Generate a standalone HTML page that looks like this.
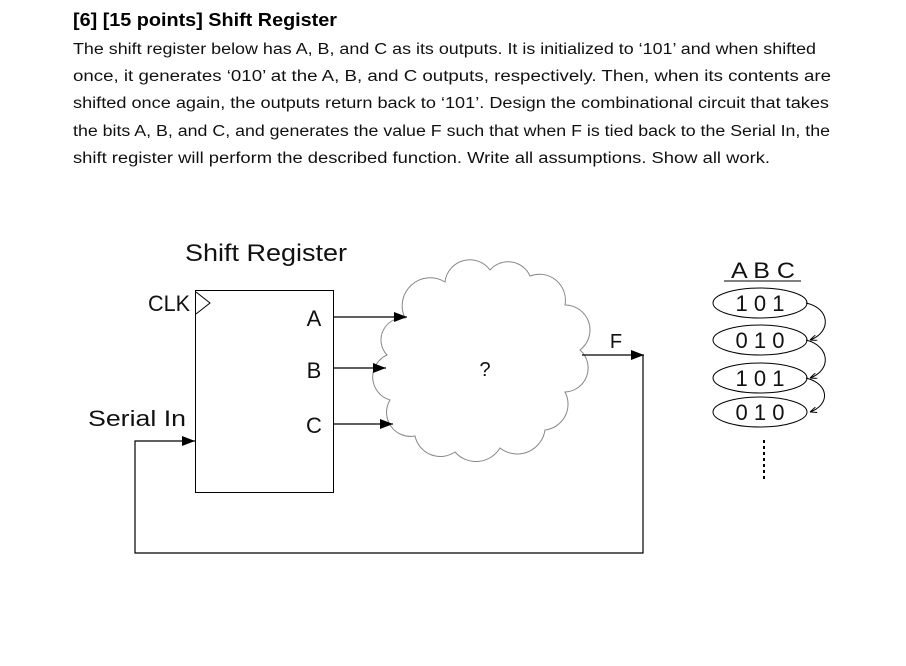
<!DOCTYPE html>
<html><head><style>
html,body{margin:0;padding:0;background:#fff;}
svg{display:block;}
</style></head><body>
<svg width="906" height="666" viewBox="0 0 906 666" xmlns="http://www.w3.org/2000/svg" font-family="Liberation Sans, sans-serif">
<defs>
<marker id="ah" markerWidth="13" markerHeight="10" refX="13" refY="5" orient="auto" markerUnits="userSpaceOnUse"><path d="M0,0 L13,5 L0,10 z" fill="#000"/></marker>
<marker id="sa" markerWidth="7" markerHeight="6" refX="7" refY="3" orient="auto" markerUnits="userSpaceOnUse"><path d="M0,0 L7,3 L0,6" fill="none" stroke="#000" stroke-width="1"/></marker>
</defs>
<text x="73" y="26" font-size="18" font-weight="bold" textLength="264" lengthAdjust="spacingAndGlyphs">[6] [15 points] Shift Register</text>
<g font-size="15.5" fill="#111">
<text x="73" y="54" textLength="743" lengthAdjust="spacingAndGlyphs">The shift register below has A, B, and C as its outputs.  It is initialized to ‘101’ and when shifted</text>
<text x="73" y="81" textLength="758" lengthAdjust="spacingAndGlyphs">once, it generates ‘010’ at the A, B, and C outputs, respectively. Then, when its contents are</text>
<text x="73" y="108" textLength="756" lengthAdjust="spacingAndGlyphs">shifted once again, the outputs return back to ‘101’.  Design the combinational circuit that takes</text>
<text x="73" y="136" textLength="757" lengthAdjust="spacingAndGlyphs">the bits A, B, and C, and generates the value F such that when F is tied back to the Serial In, the</text>
<text x="73" y="163" textLength="697" lengthAdjust="spacingAndGlyphs">shift register will perform the described function.  Write all assumptions.  Show all work.</text>
</g>
<g font-size="24" fill="#111">
<text x="185" y="261" textLength="162" lengthAdjust="spacingAndGlyphs">Shift Register</text>
<text x="148" y="311" font-size="22" textLength="42" lengthAdjust="spacingAndGlyphs">CLK</text>
<text x="88" y="426" font-size="22" textLength="98" lengthAdjust="spacingAndGlyphs">Serial In</text>
<text x="314" y="326" font-size="22" text-anchor="middle">A</text>
<text x="314" y="378" font-size="22" text-anchor="middle">B</text>
<text x="314" y="433" font-size="22" text-anchor="middle">C</text>
<text x="616" y="348" font-size="20" text-anchor="middle">F</text>
<text x="485" y="376" font-size="20" text-anchor="middle">?</text>
</g>
<rect x="195.5" y="290.5" width="138" height="202" fill="none" stroke="#000" stroke-width="1"/>
<path d="M196,292 L210,303 L196,314" fill="none" stroke="#000" stroke-width="1"/>
<path d="M405,318 A28,28 0 0 1 445,282 A25,25 0 0 1 490,270 A24,24 0 0 1 530,276 A26,26 0 0 1 565,305 A25,25 0 0 1 580,350 A24,24 0 0 1 565,392 A26,26 0 0 1 545,430 A28,28 0 0 1 500,448 A28,28 0 0 1 455,452 A26,26 0 0 1 415,436 A24,24 0 0 1 390,400 A24,24 0 0 1 387,355 A22,22 0 0 1 405,318 Z" fill="none" stroke="#888" stroke-width="1"/>
<g stroke="#000" stroke-width="1.2" fill="none">
<line x1="334" y1="317" x2="407" y2="317" marker-end="url(#ah)"/>
<line x1="334" y1="368" x2="386" y2="368" marker-end="url(#ah)"/>
<line x1="334" y1="424" x2="393" y2="424" marker-end="url(#ah)"/>
<line x1="582" y1="355" x2="644" y2="355" marker-end="url(#ah)"/>
<polyline points="643,355 643,553 135,553 135,441 195,441" marker-end="url(#ah)"/>
</g>
<g font-size="22" fill="#111" text-anchor="middle">
<text x="763" y="278" textLength="64" lengthAdjust="spacingAndGlyphs">A B C</text>
<text x="760" y="311">1 0 1</text>
<text x="760" y="348">0 1 0</text>
<text x="760" y="386">1 0 1</text>
<text x="760" y="420">0 1 0</text>
</g>
<line x1="724" y1="281" x2="801" y2="281" stroke="#000" stroke-width="1"/>
<g fill="none" stroke="#000" stroke-width="1">
<ellipse cx="760" cy="303" rx="47" ry="15"/>
<ellipse cx="760" cy="340" rx="47" ry="15"/>
<ellipse cx="760" cy="378" rx="47" ry="15"/>
<ellipse cx="760" cy="412" rx="47" ry="15"/>
<path d="M806,303 C830,308 832,332 810,340" marker-end="url(#sa)"/>
<path d="M806,340 C830,346 832,370 810,378" marker-end="url(#sa)"/>
<path d="M806,378 C830,384 830,405 810,412" marker-end="url(#sa)"/>
<line x1="764" y1="440" x2="764" y2="481" stroke-width="2" stroke-dasharray="3,3"/>
</g>
</svg>
</body></html>
